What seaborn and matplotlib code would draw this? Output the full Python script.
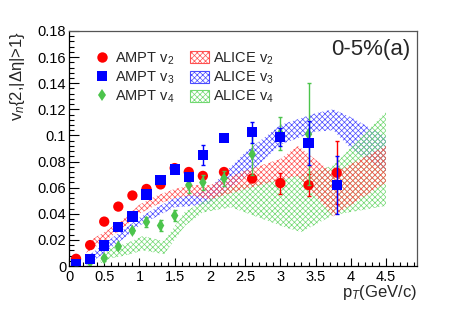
import numpy as np
import pandas as pd
import seaborn as sns
import matplotlib.pyplot as plt
from matplotlib.lines import Line2D
from matplotlib.patches import Patch
from matplotlib.ticker import MultipleLocator, FormatStrFormatter

# AMPT points
pt = [0.1, 0.3, 0.5, 0.7, 0.9, 1.1, 1.3, 1.5, 1.7, 1.9, 2.2, 2.6, 3.0, 3.4, 3.8]
v2 = [0.0055, 0.016, 0.034, 0.0455, 0.054, 0.059, 0.0625, 0.075, 0.072, 0.069, 0.072, 0.067, 0.0635, 0.062, 0.0715]
v2_err = [0.0005, 0.0008, 0.001, 0.001, 0.001, 0.001, 0.0012, 0.0012, 0.0015, 0.002, 0.0025, 0.003, 0.008, 0.0085, 0.024]
v3 = [0.0015, 0.0055, 0.0157, 0.030, 0.038, 0.0548, 0.066, 0.074, 0.068, 0.085, 0.0978, 0.1024, 0.0988, 0.094, 0.062]
v3_err = [0.0005, 0.0008, 0.001, 0.001, 0.0012, 0.0015, 0.002, 0.002, 0.003, 0.0075, 0.002, 0.008, 0.007, 0.017, 0.0225]
pt_v4 = [0.1, 0.3, 0.5, 0.7, 0.9, 1.1, 1.3, 1.5, 1.7, 1.9, 2.2, 2.6, 3.0, 3.4]
v4 = [0.001, 0.003, 0.006, 0.015, 0.027, 0.0337, 0.031, 0.0386, 0.062, 0.064, 0.067, 0.0856, 0.1015, 0.101]
v4_err = [0.0005, 0.001, 0.002, 0.002, 0.002, 0.004, 0.004, 0.004, 0.006, 0.006, 0.0055, 0.016, 0.013, 0.039]

# ALICE bands (lower / upper edges)
alice2_pt = [0.25, 0.5, 0.75, 1.0, 1.25, 1.5, 1.75, 2.0, 2.5, 3.0, 3.25, 3.75, 4.5]
alice2_lo = [0.010, 0.019, 0.028, 0.040, 0.047, 0.052, 0.054, 0.051, 0.059, 0.066, 0.069, 0.038, 0.064]
alice2_hi = [0.018, 0.026, 0.035, 0.047, 0.054, 0.059, 0.062, 0.062, 0.073, 0.082, 0.092, 0.071, 0.092]
alice3_pt = [0.25, 0.5, 0.75, 1.0, 1.25, 1.5, 1.75, 2.0, 2.5, 3.0, 3.5, 3.75, 4.0, 4.5]
alice3_lo = [0.000, 0.010, 0.020, 0.031, 0.038, 0.045, 0.046, 0.048, 0.068, 0.093, 0.103, 0.104, 0.090, 0.072]
alice3_hi = [0.007, 0.017, 0.027, 0.037, 0.045, 0.052, 0.055, 0.060, 0.087, 0.108, 0.117, 0.120, 0.114, 0.099]
alice4_pt = [0.45, 0.6, 0.8, 1.05, 1.35, 1.65, 1.9, 2.3, 2.7, 3.1, 3.3, 3.75, 4.5]
alice4_lo = [0.002, 0.006, 0.008, 0.012, 0.009, 0.031, 0.041, 0.045, 0.037, 0.029, 0.026, 0.039, 0.046]
alice4_hi = [0.007, 0.014, 0.017, 0.023, 0.019, 0.042, 0.049, 0.061, 0.064, 0.068, 0.070, 0.077, 0.118]

red = '#ff0000'
blue = '#0000ff'
green = '#4cc44c'
band_red = '#ff5050'
band_blue = '#4a4aff'
band_green = '#70d870'

sns.set_theme(style="ticks")
plt.rcParams['font.family'] = ['Liberation Sans', 'DejaVu Sans']
plt.rcParams['mathtext.fontset'] = 'custom'
plt.rcParams['mathtext.rm'] = 'Liberation Sans'
plt.rcParams['mathtext.it'] = 'Liberation Sans:italic'
plt.rcParams['hatch.linewidth'] = 0.5

fig = plt.figure(figsize=(4.63, 3.14), dpi=100)
ax = fig.add_axes([69/463, 1-266/314, 348/463, 235/314])

# bands
hatch = 'xxxxxx'
ax.fill_between(alice3_pt, alice3_lo, alice3_hi, facecolor='none', edgecolor=band_blue, hatch=hatch, linewidth=0, zorder=1)
ax.fill_between(alice4_pt, alice4_lo, alice4_hi, facecolor='none', edgecolor=band_green, hatch=hatch, linewidth=0, zorder=1)
ax.fill_between(alice2_pt, alice2_lo, alice2_hi, facecolor='none', edgecolor=band_red, hatch=hatch, linewidth=0, zorder=1)

# points
df2 = pd.DataFrame({'pt': pt, 'v': v2, 'err': v2_err})
df3 = pd.DataFrame({'pt': pt, 'v': v3, 'err': v3_err})
df4 = pd.DataFrame({'pt': pt_v4, 'v': v4, 'err': v4_err})

ax.errorbar(df2['pt'], df2['v'], yerr=df2['err'], fmt='none', ecolor=red, elinewidth=1, capsize=1.5, zorder=3)
sns.scatterplot(data=df2, x='pt', y='v', marker='o', color=red, s=55, edgecolor='none', ax=ax, zorder=3)
ax.errorbar(df4['pt'], df4['v'], yerr=df4['err'], fmt='none', ecolor=green, elinewidth=1, capsize=1.5, zorder=4)
sns.scatterplot(data=df4, x='pt', y='v', marker='d', color=green, s=40, edgecolor='none', ax=ax, zorder=4)
ax.errorbar(df3['pt'], df3['v'], yerr=df3['err'], fmt='none', ecolor=blue, elinewidth=1, capsize=1.5, zorder=5)
sns.scatterplot(data=df3, x='pt', y='v', marker='s', color=blue, s=55, edgecolor='none', ax=ax, zorder=5)

ax.set_xlim(0, 4.94)
ax.set_ylim(0, 0.18)
ax.set_xlabel('')
ax.set_ylabel('')
ax.xaxis.set_major_locator(MultipleLocator(0.5))
ax.xaxis.set_minor_locator(MultipleLocator(0.1))
ax.yaxis.set_major_locator(MultipleLocator(0.02))
ax.yaxis.set_minor_locator(MultipleLocator(0.004))
ax.xaxis.set_major_formatter(FormatStrFormatter('%g'))
ax.yaxis.set_major_formatter(FormatStrFormatter('%g'))
ax.tick_params(axis='both', which='both', direction='in', labelsize=10.5, colors='black')
ax.tick_params(axis='y', which='major', length=7, width=0.8, pad=2)
ax.tick_params(axis='y', which='minor', length=3.5, width=0.8)
ax.tick_params(axis='x', which='major', length=6, width=0.8, pad=3)
ax.tick_params(axis='x', which='minor', length=3, width=0.8)
for s in ['left', 'bottom']:
    ax.spines[s].set_color('black')
    ax.spines[s].set_linewidth(0.9)
for s in ['top', 'right']:
    ax.spines[s].set_visible(True)
    ax.spines[s].set_color('#555555')
    ax.spines[s].set_linewidth(0.9)

# legend
handles = [
    Line2D([], [], marker='o', color=red, linestyle='none', markersize=7.5, markeredgewidth=0),
    Line2D([], [], marker='s', color=blue, linestyle='none', markersize=7.5, markeredgewidth=0),
    Line2D([], [], marker='d', color=green, linestyle='none', markersize=6.5, markeredgewidth=0),
    Patch(facecolor='none', edgecolor=band_red, hatch=hatch, linewidth=0.8),
    Patch(facecolor='none', edgecolor=band_blue, hatch=hatch, linewidth=0.8),
    Patch(facecolor='none', edgecolor=band_green, hatch=hatch, linewidth=0.8),
]
labels = ['AMPT v$_{2}$', 'AMPT v$_{3}$', 'AMPT v$_{4}$', 'ALICE v$_{2}$', 'ALICE v$_{3}$', 'ALICE v$_{4}$']
ax.legend(handles, labels, ncol=2, loc='upper left', bbox_to_anchor=(16/348, 1-12/235),
          frameon=False, fontsize=10.5, borderpad=0, handlelength=1.3, handleheight=0.9,
          handletextpad=0.25, labelspacing=0.2, columnspacing=1.1)

ax.text(0.98, 0.92, '0-5%(a)', transform=ax.transAxes, ha='right', va='center', fontsize=16)
fig.text(18/463, 1-31/314, 'v$_{n}${2,|Δη|>1}', rotation=90, ha='center', va='top', fontsize=12)
fig.text(417/463, 1-293/314, 'p$_{T}$(GeV/c)', ha='right', va='center', fontsize=12)

fig.savefig('out.png', dpi=100)
